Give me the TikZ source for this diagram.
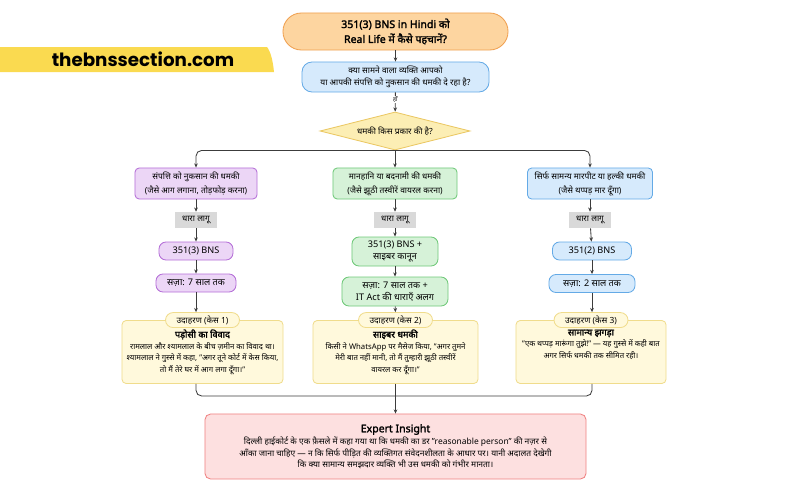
\documentclass[tikz,border=0pt]{standalone}
\usepackage{fontspec}
\setmainfont{Noto Sans}[Script=Devanagari, AutoFakeBold=2]
\newfontfamily\bannerfont{Poppins}
\usetikzlibrary{positioning,arrows.meta,shapes.geometric}

\definecolor{bannerY}{RGB}{250,218,80}
\definecolor{orFill}{RGB}{253,213,160}
\definecolor{orLine}{RGB}{240,160,80}
\definecolor{blFill}{RGB}{214,234,252}
\definecolor{blLine}{RGB}{100,170,230}
\definecolor{dmFill}{RGB}{252,238,180}
\definecolor{dmLine}{RGB}{235,200,100}
\definecolor{puFill}{RGB}{236,214,246}
\definecolor{puLine}{RGB}{180,110,215}
\definecolor{grFill}{RGB}{214,242,216}
\definecolor{grLine}{RGB}{110,200,120}
\definecolor{gyFill}{RGB}{217,217,217}
\definecolor{csFill}{RGB}{255,249,220}
\definecolor{csLine}{RGB}{240,220,140}
\definecolor{rdFill}{RGB}{253,224,224}
\definecolor{rdLine}{RGB}{240,130,130}
\definecolor{lineC}{RGB}{60,60,60}

\begin{document}
\begin{tikzpicture}[x=0.025cm,y=-0.025cm,
    font=\fontsize{6}{8.5}\selectfont,
    box/.style={draw, line width=0.6pt, align=center, inner sep=0pt},
    purp/.style={box, fill=puFill, draw=puLine},
    gren/.style={box, fill=grFill, draw=grLine},
    blue/.style={box, fill=blFill, draw=blLine},
    typebox/.style={rounded corners=3pt, minimum height=0.775cm, font=\fontsize{6}{10}\selectfont},
    lawbox/.style={rounded corners=5pt, font=\fontsize{6.5}{9}\selectfont},
    sectbox/.style={fill=gyFill, minimum width=1.05cm, minimum height=0.4cm, inner sep=0pt},
    casebox/.style={box, fill=csFill, draw=csLine, rounded corners=3pt, minimum height=1.575cm, font=\fontsize{5.5}{8.2}\selectfont},
    tabbox/.style={box, fill=csFill, draw=csLine, rounded corners=0.19cm, minimum width=1.85cm, minimum height=0.375cm},
    arr/.style={draw=lineC, line width=0.6pt, -{Stealth[length=3pt,width=2.6pt]}},
    ln/.style={draw=lineC, line width=0.6pt}]

\useasboundingbox (0,0) rectangle (800,500);

% banner
\fill[bannerY] (0,47) -- (267,47) .. controls (271,52) and (273,62) .. (274,72) -- (0,72) -- cycle;
\node[font=\bannerfont\bfseries\fontsize{13}{13}\selectfont] (site) at (143,59.5) {thebnssection.com};

% top of the chart
\node[box, fill=orFill, draw=orLine, rounded corners=0.46cm, minimum width=5.625cm, minimum height=0.925cm,
      font=\bfseries\fontsize{7.5}{10.6}\selectfont] (title) at (395.5,31.5) {351(3) BNS in Hindi को\\Real Life में कैसे पहचानें?};
\node[blue, rounded corners=0.25cm, minimum width=4.675cm, minimum height=0.75cm] (ques) at (395.5,77)
      {क्या सामने वाला व्यक्ति आपको\\या आपकी संपत्ति को नुकसान की धमकी दे रहा है?};
\node[box, diamond, aspect=3.95, fill=dmFill, draw=dmLine, minimum width=3.75cm, minimum height=0.95cm] (kind) at (395,131) {धमकी किस प्रकार की है?};

\draw[arr] (title) -- (ques);
\draw[arr] (ques) -- node[pos=0.35, fill=white, inner sep=0.5pt, font=\fontsize{4}{4}\selectfont] {हाँ} (kind);

% three kinds
\node[purp, typebox, minimum width=3.05cm] (t1) at (196,183.5) {संपत्ति को नुकसान की धमकी\\(जैसे आग लगाना, तोड़फोड़ करना)};
\node[gren, typebox, minimum width=3.1cm] (t2) at (395,183.5) {मानहानि या बदनामी की धमकी\\(जैसे झूठी तस्वीरें वायरल करना)};
\node[blue, typebox, minimum width=3.125cm] (t3) at (590,183.5) {सिर्फ सामन्य मारपीट या हल्की धमकी\\(जैसे थप्पड़ मार दूँगा)};

\draw[arr, rounded corners=4pt] (kind.south) -| (t1.north);
\draw[arr] (kind.south) -- (t2.north);
\draw[arr, rounded corners=4pt] (kind.south) -| (t3.north);

\node[sectbox] (s1) at (196,220) {धारा लागू};
\node[sectbox] (s2) at (395,220) {धारा लागू};
\node[sectbox] (s3) at (590,220) {धारा लागू};

\node[purp, lawbox, minimum width=1.85cm, minimum height=0.45cm] (b1) at (196,251) {351(3) BNS};
\node[gren, lawbox, minimum width=2.15cm, minimum height=0.725cm] (b2) at (395,251.5) {351(3) BNS +\\साइबर कानून};
\node[blue, lawbox, minimum width=1.975cm, minimum height=0.45cm] (b3) at (592,251) {351(2) BNS};

\node[purp, lawbox, minimum width=2cm, minimum height=0.45cm] (p1) at (196,283) {सज़ा: 7 साल तक};
\node[gren, lawbox, minimum width=2.65cm, minimum height=0.725cm] (p2) at (395,291.5) {सज़ा: 7 साल तक +\\IT Act की धाराएँ अलग};
\node[blue, lawbox, minimum width=2.15cm, minimum height=0.45cm] (p3) at (592,283.5) {सज़ा: 2 साल तक};

\draw[arr] (t1) -- (s1);
\draw[arr] (s1) -- (b1);
\draw[arr] (b1) -- (p1);
\draw[arr] (t2) -- (s2);
\draw[arr] (s2) -- (b2);
\draw[arr] (b2) -- (p2);
\draw[arr] (t3) -- (s3);
\draw[arr] (s3) -- (b3);
\draw[arr] (b3) -- (p3);

% examples
\node[casebox, minimum width=4.025cm] (c1) at (202.5,352) {\textbf{\fontsize{6.5}{8.2}\selectfont पड़ोसी का विवाद}\\रामलाल और श्यामलाल के बीच ज़मीन का विवाद था।\\श्यामलाल ने गुस्से में कहा, "अगर तूने कोर्ट में केस किया,\\तो मैं तेरे घर में आग लगा दूँगा।"};
\node[casebox, minimum width=4.125cm] (c2) at (395.5,352) {\textbf{\fontsize{6.5}{8.2}\selectfont साइबर धमकी}\\किसी ने WhatsApp पर मैसेज किया, "अगर तुमने\\मेरी बात नहीं मानी, तो मैं तुम्हारी झूठी तस्वीरें\\वायरल कर दूँगा।"};
\node[casebox, minimum width=3.75cm] (c3) at (591,352) {\textbf{\fontsize{6.5}{8.2}\selectfont सामान्य झगड़ा}\\"एक थप्पड़ मारूंगा तुझे!" — यह गुस्से में कही बात\\अगर सिर्फ धमकी तक सीमित रही।\\[3pt]};

\node[tabbox] (k1) at (c1.north) {उदाहरण (केस 1)};
\node[tabbox] (k2) at (c2.north) {उदाहरण (केस 2)};
\node[tabbox] (k3) at (c3.north) {उदाहरण (केस 3)};

\draw[arr] (p1.south) -- (p1.south |- k1.north);
\draw[arr] (p2) -- (k2);
\draw[arr] (p3.south) -- (p3.south |- k3.north);

% insight
\node[box, fill=rdFill, draw=rdLine, rounded corners=4pt, minimum width=9.525cm, minimum height=1.625cm,
      font=\fontsize{6}{8}\selectfont] (tip) at (395.5,446.5)
      {{\bfseries\fontsize{7.5}{10}\selectfont Expert Insight}\\[1pt]
       दिल्ली हाईकोर्ट के एक फ़ैसले में कहा गया था कि धमकी का डर "reasonable person" की नज़र से\\
       आँका जाना चाहिए — न कि सिर्फ पीड़ित की व्यक्तिगत संवेदनशीलता के आधार पर। यानी अदालत देखेगी\\
       कि क्या सामान्य समझदार व्यक्ति भी उस धमकी को गंभीर मानता।};

\coordinate (merge) at (395.5,396);
\draw[ln, rounded corners=4pt] (p1.south |- c1.south) |- (merge);
\draw[ln, rounded corners=4pt] (p3.south |- c3.south) |- (merge);
\draw[arr] (c2) -- (tip);
\end{tikzpicture}
\end{document}
